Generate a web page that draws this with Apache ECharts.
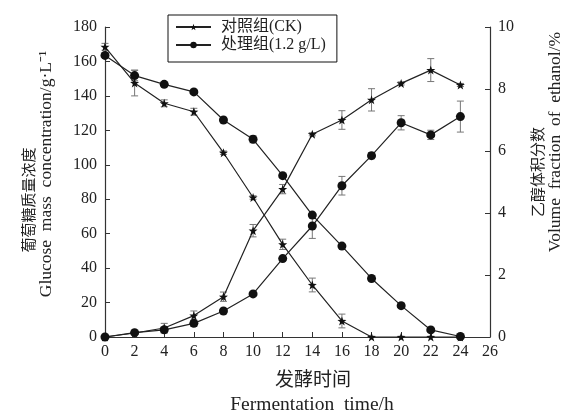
<!DOCTYPE html>
<html><head><meta charset="utf-8">
<script src="https://cdn.jsdelivr.net/npm/echarts@6/dist/echarts.min.js"></script>
<style>html,body{margin:0;padding:0;background:#fff}#c{width:567px;height:415px}</style>
</head><body><div id="c"></div>
<script>
var hours = [0,2,4,6,8,10,12,14,16,18,20,22,24];
var glucoseCK = [168.5,147.5,135.7,130.8,107,81,53.8,30.2,9.3,0,0,0,0];
var glucoseCKErr = [2,7.5,2,2,1,1,3,4,4,0,0,0,0];
var glucoseT = [163.5,151.8,146.7,142.3,126,114.8,93.7,70.8,52.8,34,18.2,4.1,0.3];
var glucoseTErr = [1,3,1,1,1,2,1,1,1,1,1,1,0];
var ethanolCK = [0,0.13,0.29,0.69,1.3,3.43,4.77,6.54,7.0,7.65,8.18,8.61,8.13];
var ethanolCKErr = [0,0.05,0.15,0.15,0.15,0.2,0.15,0.05,0.3,0.36,0.05,0.37,0.05];
var ethanolT = [0,0.14,0.23,0.44,0.84,1.39,2.53,3.58,4.88,5.85,6.91,6.52,7.11];
var ethanolTErr = [0,0.05,0.1,0.1,0.05,0.05,0.05,0.4,0.3,0.1,0.23,0.15,0.5];
var xTicks = [0,2,4,6,8,10,12,14,16,18,20,22,24,26];
var legendNames = ['对照组(CK)','处理组(1.2 g/L)'];

var STAR = 'path://M0,-10 L2.35,-3.24 9.51,-3.09 3.8,1.24 5.88,8.09 0,4 -5.88,8.09 -3.8,1.24 -9.51,-3.09 -2.35,-3.24Z';
var FONT = '"Liberation Serif","Noto Sans CJK SC",serif';

function pairs(vals){ return hours.map(function(h,i){return [h, vals[i]];}); }
function errData(vals, errs){ return hours.map(function(h,i){return [h, vals[i]-errs[i], vals[i]+errs[i]];}); }
function errSeries(vals, errs, yIdx){
  return {
    type:'custom', yAxisIndex:yIdx, silent:true, z:1,
    data: errData(vals, errs),
    renderItem: function(params, api){
      var lo = api.coord([api.value(0), api.value(1)]);
      var hi = api.coord([api.value(0), api.value(2)]);
      if (Math.abs(hi[1]-lo[1]) < 1) return null;
      var w = 3.5;
      var st = {stroke:'#777', lineWidth:1};
      return {type:'group', children:[
        {type:'line', shape:{x1:lo[0],y1:lo[1],x2:hi[0],y2:hi[1]}, style:st},
        {type:'line', shape:{x1:lo[0]-w,y1:lo[1],x2:lo[0]+w,y2:lo[1]}, style:st},
        {type:'line', shape:{x1:hi[0]-w,y1:hi[1],x2:hi[0]+w,y2:hi[1]}, style:st}
      ]};
    }
  };
}
function lineSeries(name, vals, yIdx, sym, size){
  return {name:name, type:'line', yAxisIndex:yIdx, data:pairs(vals), symbol:sym, symbolSize:size,
    showAllSymbol:true, z:3,
    lineStyle:{color:'#222', width:1.2}, itemStyle:{color:'#111'}, emphasis:{disabled:true}};
}

var chart = echarts.init(document.getElementById('c'));
chart.setOption({
  animation:false,
  textStyle:{fontFamily:FONT},
  grid:{left:105, right:77, top:27, bottom:78},
  legend:{
    orient:'vertical', left:168, top:15, itemGap:2, itemWidth:35, itemHeight:8,
    borderColor:'#111', borderWidth:1, padding:[4,11,9,7], borderRadius:0,
    textStyle:{fontFamily:FONT, fontSize:16, lineHeight:15, color:'#222', padding:[0,0,0,5]},
    data:[legendNames[0], legendNames[1]]
  },
  xAxis:{type:'value', min:0, max:26, interval:2,
    axisLine:{lineStyle:{color:'#333', width:1.2}},
    axisTick:{inside:true, length:5, lineStyle:{color:'#333'}},
    axisLabel:{fontFamily:FONT, fontSize:16, color:'#222', margin:7,
      formatter:function(v){return xTicks.indexOf(v)>=0 ? String(v) : '';}},
    splitLine:{show:false}},
  yAxis:[
    {type:'value', min:0, max:180, interval:20, position:'left',
      axisLine:{show:true, lineStyle:{color:'#333', width:1.2}},
      axisTick:{show:true, inside:true, length:5, lineStyle:{color:'#333'}},
      axisLabel:{fontFamily:FONT, fontSize:16, color:'#222', margin:8},
      splitLine:{show:false}},
    {type:'value', min:0, max:10, interval:2, position:'right',
      axisLine:{show:true, lineStyle:{color:'#333', width:1.2}},
      axisTick:{show:true, inside:true, length:5, lineStyle:{color:'#333'}},
      axisLabel:{fontFamily:FONT, fontSize:16, color:'#222', margin:8},
      splitLine:{show:false}}
  ],
  graphic:[
    {type:'text', x:28, y:200, rotation:Math.PI/2, style:{text:'葡萄糖质量浓度', font:'15px "Noto Sans CJK SC"', fill:'#222', align:'center', verticalAlign:'middle'}},
    {type:'text', x:46, y:174, rotation:Math.PI/2, style:{text:'Glucose  mass  concentration/g·L⁻¹', font:'17.5px "Liberation Serif"', fill:'#222', align:'center', verticalAlign:'middle'}},
    {type:'text', x:537, y:172, rotation:Math.PI/2, style:{text:'乙醇体积分数', font:'15px "Noto Sans CJK SC"', fill:'#222', align:'center', verticalAlign:'middle'}},
    {type:'text', x:555, y:142, rotation:Math.PI/2, style:{text:'Volume  fraction  of  ethanol/%', font:'17.5px "Liberation Serif"', fill:'#222', align:'center', verticalAlign:'middle'}},
    {type:'text', x:313, y:379, style:{text:'发酵时间', font:'19px "Noto Sans CJK SC"', fill:'#222', align:'center', verticalAlign:'middle'}},
    {type:'text', x:312, y:405, style:{text:'Fermentation  time/h', font:'19.5px "Liberation Serif"', fill:'#222', align:'center', verticalAlign:'middle'}}
  ],
  series:[
    errSeries(glucoseCK, glucoseCKErr, 0),
    errSeries(glucoseT, glucoseTErr, 0),
    errSeries(ethanolCK, ethanolCKErr, 1),
    errSeries(ethanolT, ethanolTErr, 1),
    lineSeries(legendNames[0], glucoseCK, 0, STAR, 9),
    lineSeries(legendNames[1], glucoseT, 0, 'circle', 9),
    lineSeries(legendNames[0], ethanolCK, 1, STAR, 9),
    lineSeries(legendNames[1], ethanolT, 1, 'circle', 9)
  ]
});
</script></body></html>
